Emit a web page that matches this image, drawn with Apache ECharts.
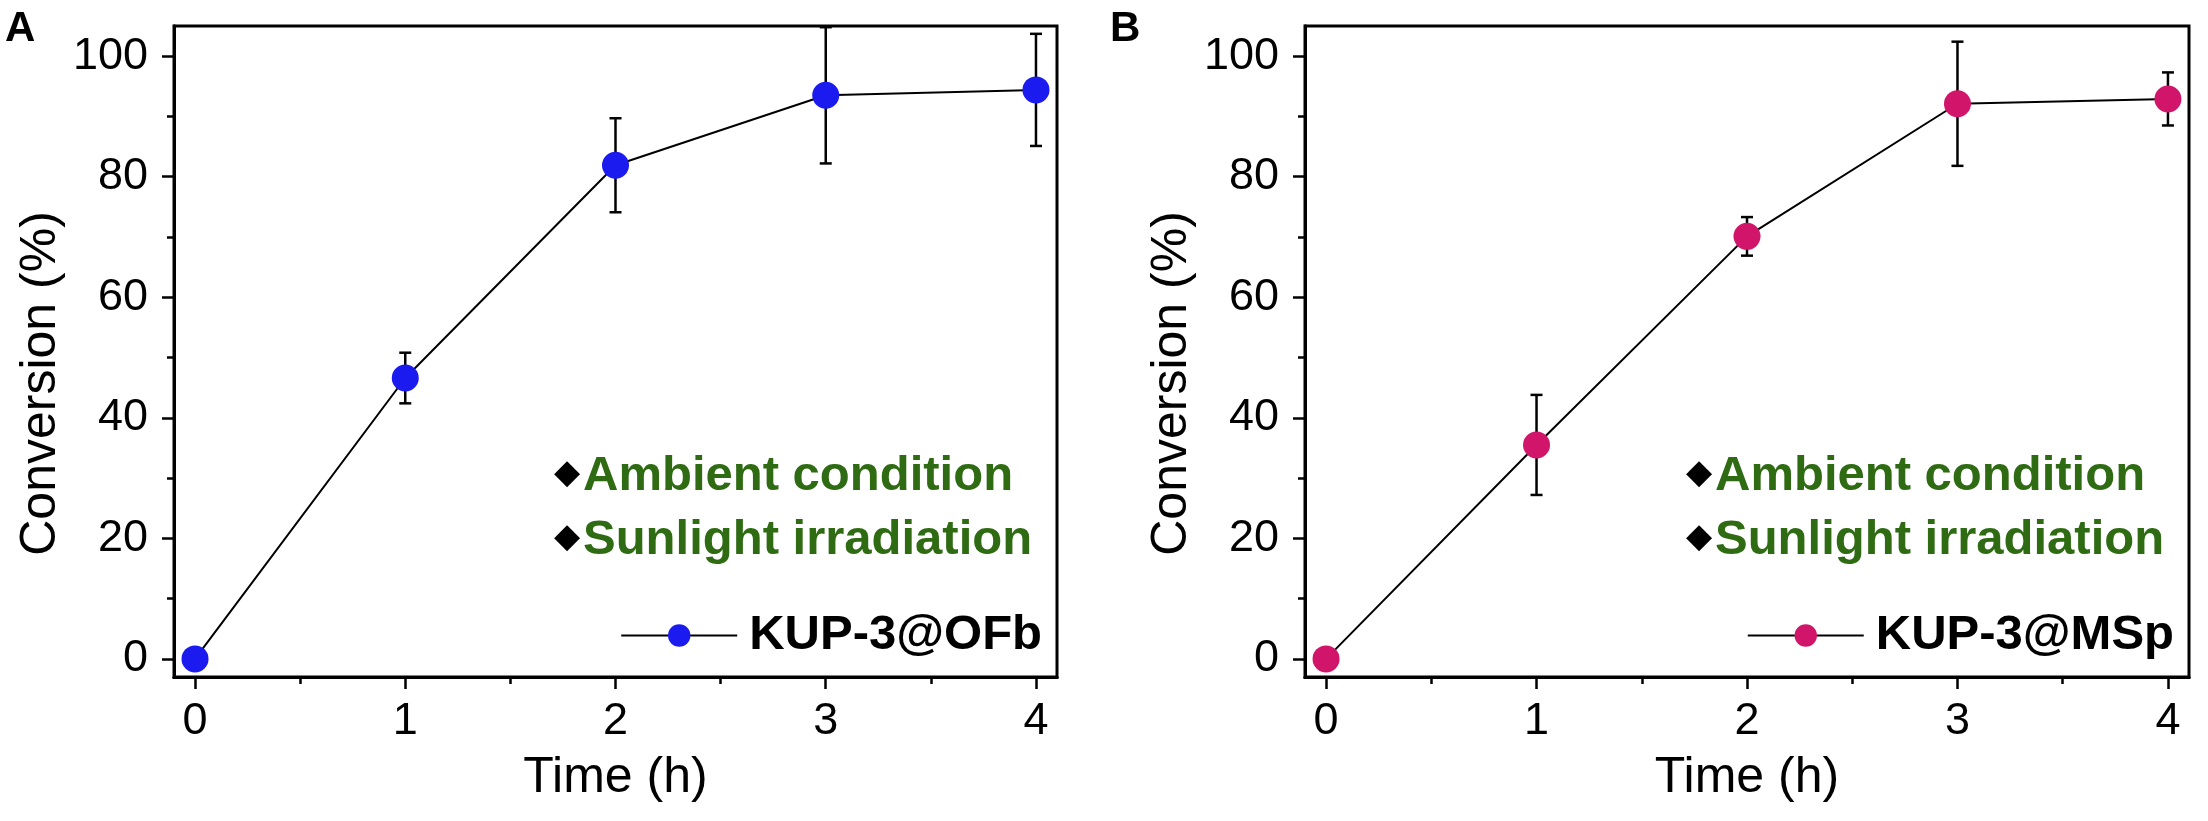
<!DOCTYPE html>
<html>
<head>
<meta charset="utf-8">
<script src="https://cdn.jsdelivr.net/npm/echarts@6/dist/echarts.min.js"></script>
<style>
html,body{margin:0;padding:0;background:#fff;}
#chart{width:2208px;height:821px;}
</style>
</head>
<body>
<div id="chart"></div>
<script>
// ---- data ----
const times = [0, 1, 2, 3, 4];
const convA = [0, 46.6, 81.9, 93.5, 94.4];
const errA  = [0, 4.2, 7.8, 11.3, 9.3];
const convB = [0, 35.5, 70.1, 92.1, 92.9];
const errB  = [0, 8.3, 3.2, 10.3, 4.4];
const nameA = 'KUP-3@OFb';
const nameB = 'KUP-3@MSp';
const xMajor = [0, 1, 2, 3, 4];
const xMinor = [0.5, 1.5, 2.5, 3.5];
const yMajor = [0, 20, 40, 60, 80, 100];
const yMinor = [10, 30, 50, 70, 90];
const notes = ['Ambient condition', 'Sunlight irradiation'];
const panelLabels = ['A', 'B'];

// ---- layout ----
const W = 2208, H = 821;
const grids = [
  {left: 174, right: W - 1057, top: 26, bottom: H - 677},
  {left: 1305, right: W - 2189, top: 26, bottom: H - 677}
];
const FONT = 'Liberation Sans, Arial, sans-serif';
const colors = ['#1b1bf0', '#d1156b'];

function xAxes(gi) {
  const base = {
    type: 'value', gridIndex: gi, min: -0.1, max: 4.1, position: 'bottom',
    splitLine: {show: false},
    axisLine: {show: true, onZero: false, lineStyle: {color: '#000', width: 3}}
  };
  return [
    Object.assign({}, base, {
      name: 'Time (h)', nameLocation: 'middle', nameGap: 76,
      nameTextStyle: {fontFamily: FONT, fontSize: 50, color: '#000'},
      axisTick: {show: true, inside: false, length: 12, lineStyle: {color: '#000', width: 2.5}, customValues: xMajor},
      axisLabel: {show: true, margin: 22, fontFamily: FONT, fontSize: 45, color: '#000', customValues: xMajor}
    }),
    Object.assign({}, base, {
      axisTick: {show: true, inside: false, length: 7, lineStyle: {color: '#000', width: 2.5}, customValues: xMinor},
      axisLabel: {show: false}
    })
  ];
}
function yAxes(gi) {
  const base = {
    type: 'value', gridIndex: gi, min: -3, max: 105, position: 'left',
    splitLine: {show: false},
    axisLine: {show: true, onZero: false, lineStyle: {color: '#000', width: 3}}
  };
  return [
    Object.assign({}, base, {
      name: 'Conversion (%)', nameLocation: 'middle', nameGap: 108, nameRotate: 90,
      nameTextStyle: {fontFamily: FONT, fontSize: 50, color: '#000', padding: [0, 64, 0, 0]},
      axisTick: {show: true, inside: false, length: 12, lineStyle: {color: '#000', width: 2.5}, customValues: yMajor},
      axisLabel: {show: true, margin: 26, fontFamily: FONT, fontSize: 45, color: '#000', customValues: yMajor}
    }),
    Object.assign({}, base, {
      axisTick: {show: true, inside: false, length: 7, lineStyle: {color: '#000', width: 2.5}, customValues: yMinor},
      axisLabel: {show: false}
    })
  ];
}

function errRender(params, api) {
  const x = api.value(0), y = api.value(1), e = api.value(2);
  if (!e) return null;
  const top = api.coord([x, y + e]);
  const bot = api.coord([x, y - e]);
  const cw = 6;
  const st = {stroke: '#000', lineWidth: 2.5};
  return {
    type: 'group',
    children: [
      {type: 'line', shape: {x1: top[0], y1: top[1], x2: bot[0], y2: bot[1]}, style: st},
      {type: 'line', shape: {x1: top[0] - cw, y1: top[1], x2: top[0] + cw, y2: top[1]}, style: st},
      {type: 'line', shape: {x1: bot[0] - cw, y1: bot[1], x2: bot[0] + cw, y2: bot[1]}, style: st}
    ]
  };
}

function panelSeries(gi, name, vals, errs, color) {
  const pts = times.map((t, i) => [t, vals[i]]);
  const epts = times.map((t, i) => [t, vals[i], errs[i]]);
  return [
    {
      type: 'custom', name: name + ' err', xAxisIndex: gi * 2, yAxisIndex: gi * 2,
      renderItem: errRender, data: epts, encode: {x: 0, y: 1}, z: 1, silent: true
    },
    {
      type: 'line', name: name, xAxisIndex: gi * 2, yAxisIndex: gi * 2,
      data: pts, symbol: 'circle', symbolSize: 27, showSymbol: true,
      lineStyle: {color: '#000', width: 2},
      itemStyle: {color: color, borderWidth: 0},
      z: 3
    }
  ];
}

function legendFor(gi, name) {
  const rightEdge = W - grids[gi].right;
  return {
    data: [name], orient: 'horizontal',
    right: W - (rightEdge - 15), top: 611,
    padding: 0, itemGap: 0, itemWidth: 116, itemHeight: 28,
    textStyle: {fontFamily: FONT, fontSize: 49, fontWeight: 'bold', color: '#000', padding: [0, 0, 0, 7]}
  };
}

function annotations(gi) {
  const rightEdge = W - grids[gi].right;
  const textLeft = rightEdge - 474;
  const diaX = rightEdge - 490;
  const ys = [474, 538];
  const out = [];
  notes.forEach((n, i) => {
    out.push({type: 'text', x: diaX, y: ys[i], style: {text: '\u25C6', font: '34px "DejaVu Sans"', fill: '#000', align: 'center', verticalAlign: 'middle'}, z: 10});
    out.push({type: 'text', x: textLeft, y: ys[i] + 2, style: {text: n, font: 'bold 49px "Liberation Sans", Arial, sans-serif', fill: '#2e6b12', align: 'left', verticalAlign: 'middle'}, z: 10});
  });
  return out;
}

const option = {
  animation: false,
  backgroundColor: '#fff',
  grid: grids.map(g => Object.assign({show: true, borderColor: '#000', borderWidth: 3, backgroundColor: 'transparent'}, g)),
  xAxis: xAxes(0).concat(xAxes(1)),
  yAxis: yAxes(0).concat(yAxes(1)),
  legend: [legendFor(0, nameA), legendFor(1, nameB)],
  series: panelSeries(0, nameA, convA, errA, colors[0]).concat(panelSeries(1, nameB, convB, errB, colors[1])),
  graphic: annotations(0).concat(annotations(1)).concat([
    {type: 'text', x: 5, y: 8, style: {text: panelLabels[0], font: 'bold 42px "Liberation Sans", Arial, sans-serif', fill: '#000'}},
    {type: 'text', x: 1110, y: 8, style: {text: panelLabels[1], font: 'bold 42px "Liberation Sans", Arial, sans-serif', fill: '#000'}}
  ])
};

const chart = echarts.init(document.getElementById('chart'), null, {renderer: 'canvas'});
chart.setOption(option);
</script>
</body>
</html>
